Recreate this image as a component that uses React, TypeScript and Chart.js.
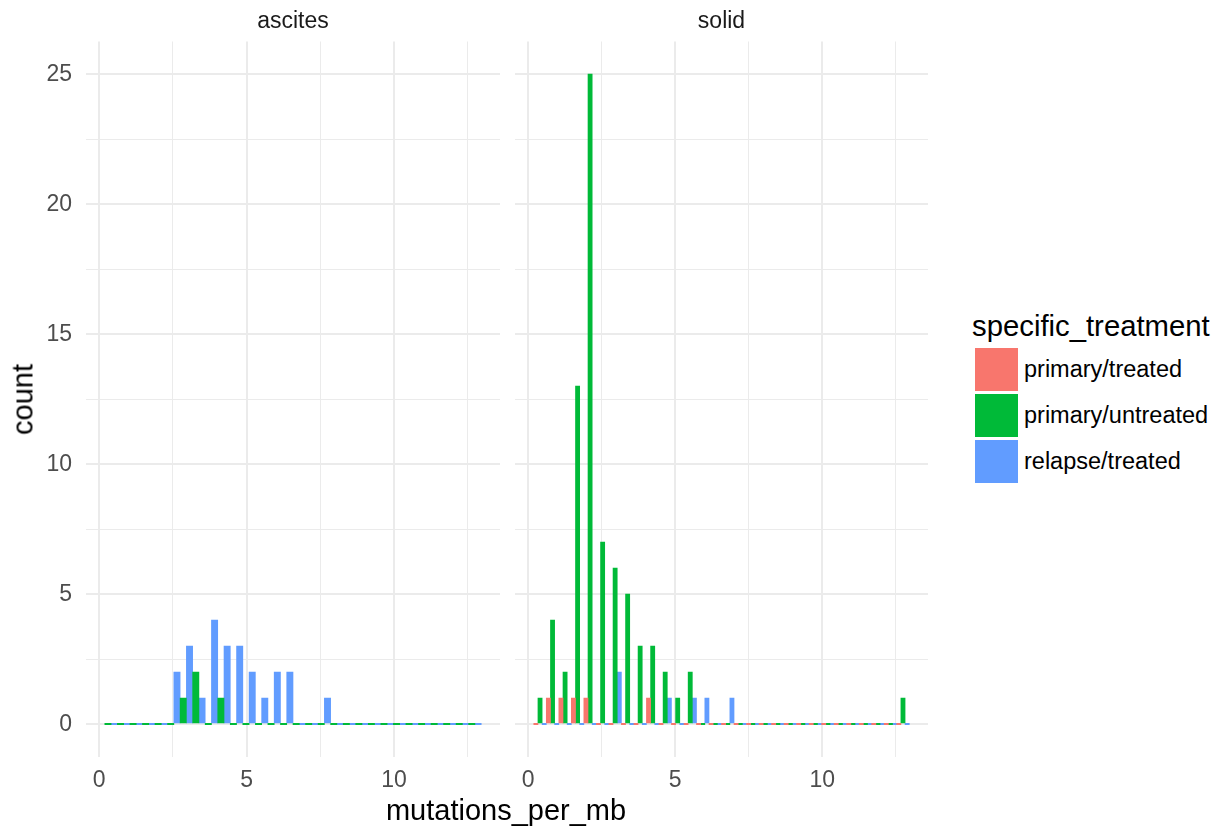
import React, { useEffect, useRef } from 'react';
import { Chart, registerables } from 'chart.js';

Chart.register(...registerables);

// bin centres (mutations_per_mb), 30 histogram bins
const binCenters = [
  0.406, 0.831, 1.257, 1.682, 2.107, 2.533, 2.958, 3.383, 3.808, 4.234,
  4.659, 5.084, 5.51, 5.935, 6.36, 6.786, 7.211, 7.636, 8.061, 8.487,
  8.912, 9.337, 9.763, 10.188, 10.613, 11.039, 11.464, 11.889, 12.314, 12.74,
];

// facet: ascites
const ascitesUntreated = [0, 0, 0, 0, 0, 0, 1, 2, 0, 1, 0, 0, 0, 0, 0, 0, 0, 0, 0, 0, 0, 0, 0, 0, 0, 0, 0, 0, 0, 0];
const ascitesRelapse = [0, 0, 0, 0, 0, 2, 3, 1, 4, 3, 3, 2, 1, 2, 2, 0, 0, 1, 0, 0, 0, 0, 0, 0, 0, 0, 0, 0, 0, 0];

// facet: solid
const solidTreated = [0, 1, 1, 1, 1, 0, 0, 0, 0, 1, 0, 0, 0, 0, 0, 0, 0, 0, 0, 0, 0, 0, 0, 0, 0, 0, 0, 0, 0, 0];
const solidUntreated = [1, 4, 2, 13, 25, 7, 6, 5, 3, 3, 2, 1, 2, 0, 0, 0, 0, 0, 0, 0, 0, 0, 0, 0, 0, 0, 0, 0, 0, 1];
const solidRelapse = [0, 0, 0, 0, 0, 0, 2, 0, 0, 0, 1, 0, 1, 1, 0, 1, 0, 0, 0, 0, 0, 0, 0, 0, 0, 0, 0, 0, 0, 0];

const xTickValues = [0, 2.5, 5, 7.5, 10, 12.5];
const yTickValues = [0, 2.5, 5, 7.5, 10, 12.5, 15, 17.5, 20, 22.5, 25];

const facetNames = ['ascites', 'solid'];
const legendTitle = 'specific_treatment';
const legendLabels = ['primary/treated', 'primary/untreated', 'relapse/treated'];
const legendColors = ['#F8766D', '#00BA38', '#619CFF'];
const xTitle = 'mutations_per_mb';
const yTitle = 'count';

const FONT = '"Liberation Sans", Arial, Helvetica, sans-serif';

type Series = { label: string; values: number[]; color: string };

function isMajor(v: number) {
  return Math.abs(v % 5) < 1e-9;
}

function panelConfig(series: Series[], showY: boolean, padLeft: number, padRight: number): any {
  return {
    type: 'bar',
    data: {
      datasets: series.map((s) => ({
        label: s.label,
        data: binCenters.map((x, i) => ({ x, y: s.values[i] })),
        backgroundColor: s.color,
        borderWidth: 0,
        minBarLength: 1.3,
        barPercentage: 1,
        categoryPercentage: 1,
        grouped: true,
      })),
    },
    options: {
      animation: false,
      responsive: false,
      maintainAspectRatio: false,
      layout: { padding: { left: padLeft, right: padRight, top: 41.5, bottom: 32.5 } },
      plugins: { legend: { display: false }, tooltip: { enabled: false }, title: { display: false } },
      scales: {
        x: {
          type: 'linear',
          min: -0.445,
          max: 13.59,
          offset: false,
          afterBuildTicks: (s: any) => {
            s.ticks = xTickValues.map((v) => ({ value: v }));
          },
          afterFit: (s: any) => {
            s.height = 40;
          },
          grid: {
            offset: false,
            color: '#EBEBEB',
            lineWidth: (c: any) => (c.tick && isMajor(c.tick.value) ? 2 : 1),
            drawTicks: false,
          },
          border: { display: false },
          ticks: {
            autoSkip: false,
            maxRotation: 0,
            minRotation: 0,
            padding: 10,
            color: '#4D4D4D',
            font: { size: 23, family: FONT },
            callback: (v: any) => (isMajor(Number(v)) ? String(v) : ''),
          },
        },
        y: {
          type: 'linear',
          min: -1.25,
          max: 26.25,
          afterBuildTicks: (s: any) => {
            s.ticks = yTickValues.map((v) => ({ value: v }));
          },
          afterFit: (s: any) => {
            s.width = showY ? 86 : 0;
          },
          grid: {
            color: '#EBEBEB',
            lineWidth: (c: any) => (c.tick && isMajor(c.tick.value) ? 2 : 1),
            drawTicks: false,
          },
          border: { display: false },
          ticks: {
            display: showY,
            autoSkip: false,
            padding: 14,
            labelOffset: 1,
            color: '#4D4D4D',
            font: { size: 23, family: FONT },
            callback: (v: any) => (isMajor(Number(v)) ? String(v) : ''),
          },
        },
      },
    },
  };
}

function Panel(props: { series: Series[]; showY: boolean; left: number; width: number; padLeft: number; padRight: number }) {
  const ref = useRef<HTMLCanvasElement | null>(null);
  useEffect(() => {
    if (!ref.current) return;
    const chart = new Chart(ref.current, panelConfig(props.series, props.showY, props.padLeft, props.padRight));
    return () => chart.destroy();
  }, []);
  return (
    <canvas
      ref={ref}
      width={props.width}
      height={829}
      style={{ position: 'absolute', left: props.left, top: 0, width: props.width, height: 829 }}
    />
  );
}

export default function App() {
  const leftSeries: Series[] = [
    { label: legendLabels[1], values: ascitesUntreated, color: legendColors[1] },
    { label: legendLabels[2], values: ascitesRelapse, color: legendColors[2] },
  ];
  const rightSeries: Series[] = [
    { label: legendLabels[0], values: solidTreated, color: legendColors[0] },
    { label: legendLabels[1], values: solidUntreated, color: legendColors[1] },
    { label: legendLabels[2], values: solidRelapse, color: legendColors[2] },
  ];
  const txt: React.CSSProperties = { position: 'absolute', fontFamily: FONT, whiteSpace: 'nowrap' };
  return (
    <div style={{ position: 'absolute', left: 0, top: 0, width: 1222, height: 829, background: '#FFFFFF', overflow: 'hidden' }}>
      <Panel series={leftSeries} showY={true} left={0} width={505} padLeft={0} padRight={5} />
      <Panel series={rightSeries} showY={false} left={505} width={430} padLeft={10} padRight={7} />

      <div style={{ ...txt, left: 193, width: 200, top: 8.8, fontSize: 23, lineHeight: '23px', textAlign: 'center', color: '#1A1A1A' }}>
        {facetNames[0]}
      </div>
      <div style={{ ...txt, left: 621.5, width: 200, top: 8.8, fontSize: 23, lineHeight: '23px', textAlign: 'center', color: '#1A1A1A' }}>
        {facetNames[1]}
      </div>

      <div style={{ ...txt, left: 356, width: 300, top: 796, fontSize: 29, lineHeight: '29px', textAlign: 'center', color: '#000000' }}>
        {xTitle}
      </div>
      <div
        style={{
          ...txt,
          left: 23 - 100,
          top: 399 - 14.5,
          width: 200,
          fontSize: 29,
          lineHeight: '29px',
          textAlign: 'center',
          color: '#000000',
          transform: 'rotate(-90deg)',
        }}
      >
        {yTitle}
      </div>

      <div style={{ ...txt, left: 972, top: 310.5, fontSize: 29.3, lineHeight: '29px', color: '#000000' }}>{legendTitle}</div>
      {legendLabels.map((lab, i) => (
        <React.Fragment key={lab}>
          <div style={{ position: 'absolute', left: 975, top: 348 + i * 46, width: 43, height: 43, background: legendColors[i] }} />
          <div style={{ ...txt, left: 1024, top: 357.8 + i * 46, fontSize: 23.5, lineHeight: '23.5px', color: '#000000' }}>{lab}</div>
        </React.Fragment>
      ))}
    </div>
  );
}
